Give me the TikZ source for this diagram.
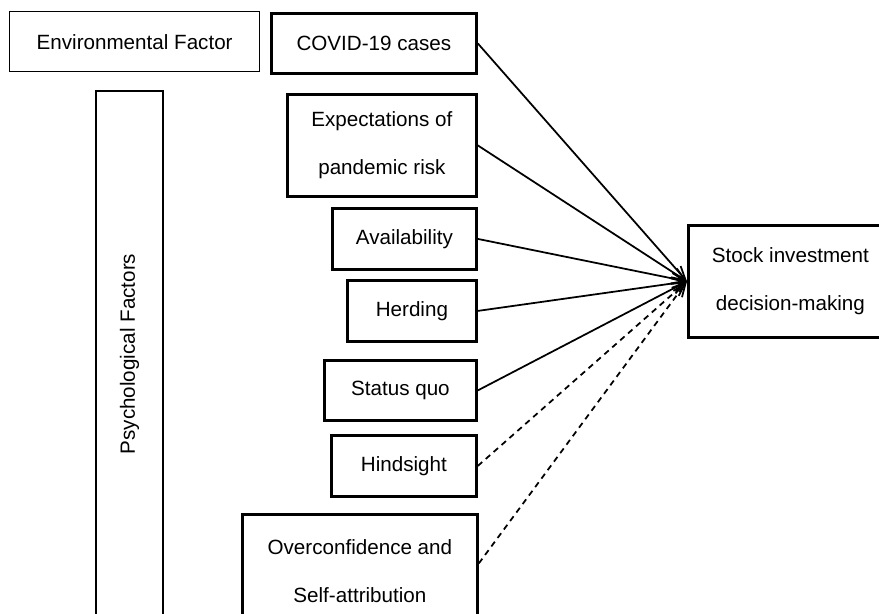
\documentclass[tikz,border=0pt]{standalone}
\usepackage{fontspec}
\setmainfont{Liberation Sans}
\usetikzlibrary{arrows.meta}
\newcommand{\pxu}{0.03cm}
\begin{document}
\begin{tikzpicture}[x=0.03cm, y=-0.03cm,
    every node/.style={font=\fontsize{17.6}{41}\selectfont, inner sep=0pt, anchor=north west, align=center},
    thinbox/.style={draw, line width=1.1pt},
    factorbox/.style={draw, line width=2.4pt},
    link/.style={line width=1.5pt, -{Straight Barb[length=4mm,width=3.2mm]}},
    weaklink/.style={link, dash pattern=on 5pt off 4pt}]
    \useasboundingbox (0,0) rectangle (879,613);
    % left column
    \node[thinbox, minimum width=250*\pxu, minimum height=60*\pxu] (env) at (9,11) {Environmental Factor};
    \node[thinbox, rotate=90, anchor=center, minimum width=526*\pxu, minimum height=67*\pxu] (psych) at (129.5,354) {Psychological Factors};
    % factors
    \node[factorbox, minimum width=205*\pxu, minimum height=60*\pxu] (covid) at (270,12) {COVID-19 cases};
    \node[factorbox, minimum width=189*\pxu, minimum height=102*\pxu] (expect) at (286,93) {Expectations of\\pandemic risk};
    \node[factorbox, minimum width=144*\pxu, minimum height=61*\pxu] (avail) at (331,207) {Availability};
    \node[factorbox, minimum width=129*\pxu, minimum height=61*\pxu] (herd) at (346,279) {Herding};
    \node[factorbox, minimum width=152*\pxu, minimum height=60*\pxu] (status) at (323,359) {Status quo};
    \node[factorbox, minimum width=145*\pxu, minimum height=61*\pxu] (hind) at (330,434) {Hindsight};
    \node[factorbox, minimum width=235*\pxu, minimum height=114*\pxu] (over) at (241,513) {Overconfidence and\\Self-attribution};
    % outcome
    \node[factorbox, minimum width=204*\pxu, minimum height=112*\pxu] (stock) at (687,224) {Stock investment\\decision-making};
    % links
    \draw[link] (covid.east) -- (stock.west);
    \draw[link] (expect.east) -- (stock.west);
    \draw[link] (avail.east) -- (stock.west);
    \draw[link] (herd.east) -- (stock.west);
    \draw[link] (status.east) -- (stock.west);
    \draw[weaklink] (hind.east) -- (stock.west);
    \draw[weaklink] ([yshift=8*\pxu]over.east) -- (stock.west);
\end{tikzpicture}
\end{document}
